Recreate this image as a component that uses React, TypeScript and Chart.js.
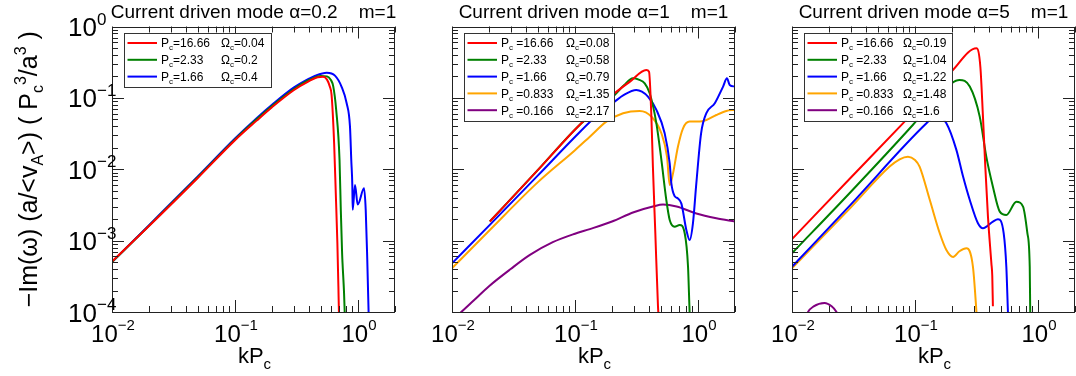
import React, { useEffect, useRef } from 'react';
import { Chart, registerables } from 'chart.js';

Chart.register(...registerables);

type Pt = [number, number];

// ---------- axes ----------
const X_MIN = 0.01;
const X_MAX = 2;
const Y_MIN = 1e-4;
const Y_MAX = 1;
const xTickExponents = [-2, -1, 0];
const yTickExponents = [0, -1, -2, -3, -4];

const seriesColors = ['#ff0000', '#008000', '#0000ff', '#ffa500', '#800080'];
const alphaValues = ['0.2', '1', '5'];
const modeNumber = '1';

// ---------- alpha = 0.2 ----------
const a02Pc = ['16.66', '2.33', '1.66'];
const a02Omega = ['0.04', '0.2', '0.4'];
const a02Pc1666: Pt[] = [
  [0.01, 5.1e-4], [0.02, 1.6e-3], [0.05, 7.6e-3], [0.1, 0.0255], [0.15, 0.048], [0.2, 0.074],
  [0.3, 0.128], [0.4, 0.172], [0.47, 0.195], [0.52, 0.197], [0.56, 0.18], [0.59, 0.144],
  [0.61, 0.11], [0.64, 0.023], [0.66, 4.6e-3], [0.68, 9.2e-4], [0.693, 2.3e-4], [0.7, 1e-4], [0.705, 8e-5],
];
const a02Pc233: Pt[] = [
  [0.01, 5.0e-4], [0.02, 1.62e-3], [0.05, 7.8e-3], [0.1, 0.0262], [0.15, 0.05], [0.2, 0.077],
  [0.3, 0.132], [0.4, 0.178], [0.5, 0.203], [0.56, 0.2], [0.6, 0.18], [0.63, 0.144],
  [0.665, 0.068], [0.708, 0.0135], [0.725, 2.7e-3], [0.743, 6.6e-4], [0.75, 4.6e-4],
  [0.77, 1.9e-4], [0.78, 1e-4], [0.785, 8e-5],
];
const a02Pc166: Pt[] = [
  [0.01, 5.0e-4], [0.02, 1.65e-3], [0.05, 8e-3], [0.1, 0.027], [0.15, 0.052], [0.2, 0.08],
  [0.3, 0.139], [0.4, 0.186], [0.45, 0.205], [0.557, 0.225], [0.65, 0.205], [0.736, 0.143],
  [0.809, 0.084], [0.861, 0.0395], [0.882, 0.0135], [0.9, 5.7e-3], [0.906, 2.7e-3],
  [0.946, 6e-3], [0.995, 3.2e-3], [1.12, 5.4e-3], [1.156, 2.7e-3], [1.19, 5.4e-4], [1.22, 1e-4], [1.23, 7e-5],
];

// ---------- alpha = 1 ----------
const a1Pc = ['16.66', '2.33', '1.66', '0.833', '0.166'];
const a1Omega = ['0.08', '0.58', '0.79', '1.35', '2.17'];
const a1Pc1666: Pt[] = [
  [0.0203, 1.85e-3], [0.05, 9.8e-3], [0.109, 0.0418], [0.15, 0.068], [0.21, 0.116], [0.28, 0.169],
  [0.38, 0.246], [0.4, 0.232], [0.418, 0.0546], [0.43, 0.0109], [0.45, 1.27e-3], [0.473, 1.2e-4], [0.48, 8e-5],
];
const a1Pc233: Pt[] = [
  [0.0203, 1.85e-3], [0.05, 9.8e-3], [0.109, 0.0418], [0.15, 0.066], [0.21, 0.11], [0.25, 0.15],
  [0.296, 0.188], [0.33, 0.18], [0.369, 0.16], [0.405, 0.116], [0.459, 0.044], [0.504, 0.0135],
  [0.553, 3.7e-3], [0.589, 1.95e-3], [0.646, 1.57e-3], [0.71, 1.66e-3], [0.78, 1.27e-3],
  [0.83, 4.3e-4], [0.855, 1e-4], [0.86, 8e-5],
];
const a1Pc166: Pt[] = [
  [0.01, 4.8e-4], [0.0203, 1.66e-3], [0.05, 8.2e-3], [0.109, 0.033], [0.15, 0.056], [0.21, 0.0885],
  [0.25, 0.11], [0.315, 0.129], [0.35, 0.122], [0.392, 0.104], [0.459, 0.068], [0.536, 0.0319],
  [0.589, 0.0121], [0.607, 6.4e-3], [0.646, 4.2e-3], [0.687, 3.9e-3], [0.733, 3.3e-3], [0.805, 1.4e-3],
  [0.855, 1.02e-3], [0.91, 1.75e-3], [0.97, 6.4e-3], [1.06, 0.0319], [1.17, 0.061], [1.37, 0.084],
  [1.6, 0.144], [1.72, 0.188], [1.81, 0.152], [2.0, 0.144],
];
const a1Pc0833: Pt[] = [
  [0.01, 4.1e-4], [0.0203, 1.41e-3], [0.05, 6.6e-3], [0.1, 0.0185], [0.132, 0.0286], [0.18, 0.0465],
  [0.246, 0.061], [0.336, 0.0656], [0.418, 0.0546], [0.504, 0.0319], [0.56, 0.015], [0.589, 6e-3],
  [0.627, 8.8e-3], [0.687, 0.0207], [0.756, 0.0375], [0.855, 0.0465], [1.03, 0.0465], [1.17, 0.049],
  [1.41, 0.0576], [1.7, 0.0656], [2.0, 0.068],
];
const a1Pc0166: Pt[] = [
  [0.01, 7.5e-5], [0.0119, 1e-4], [0.015, 1.45e-4], [0.02, 2.3e-4], [0.03, 4e-4], [0.043, 6.3e-4],
  [0.066, 9.5e-4], [0.1, 1.25e-3], [0.132, 1.45e-3], [0.2, 1.85e-3], [0.3, 2.5e-3], [0.43, 3.0e-3],
  [0.52, 3.2e-3], [0.67, 3.0e-3], [0.97, 2.4e-3], [1.41, 2.06e-3], [2.0, 1.85e-3],
];

// ---------- alpha = 5 ----------
const a5Pc = ['16.66', '2.33', '1.66', '0.833', '0.166'];
const a5Omega = ['0.19', '1.04', '1.22', '1.48', '1.6'];
const a5Pc1666: Pt[] = [
  [0.01, 1.05e-3], [0.03, 7.6e-3], [0.0798, 0.044], [0.198, 0.233], [0.316, 0.494], [0.34, 0.273],
  [0.357, 0.0546], [0.373, 0.0109], [0.392, 2.17e-3], [0.418, 4.8e-4], [0.425, 3.2e-4], [0.43, 1.2e-4],
];
const a5Pc233: Pt[] = [
  [0.01, 6.65e-4], [0.03, 4.8e-3], [0.0964, 0.042], [0.15, 0.1], [0.198, 0.16], [0.23, 0.178],
  [0.279, 0.144], [0.336, 0.0546], [0.38, 0.015], [0.43, 5.7e-3], [0.489, 2.55e-3], [0.553, 2.29e-3],
  [0.667, 3.5e-3], [0.756, 3e-3], [0.82, 1.27e-3], [0.857, 4.3e-4], [0.865, 1e-4], [0.87, 7e-5],
];
const a5Pc166: Pt[] = [
  [0.01, 4.3e-4], [0.03, 3.2e-3], [0.124, 0.044], [0.15, 0.058], [0.18, 0.044], [0.217, 0.0187],
  [0.246, 7.9e-3], [0.279, 3.7e-3], [0.325, 1.75e-3], [0.357, 1.49e-3], [0.43, 1.85e-3], [0.473, 2e-3],
  [0.526, 1.27e-3], [0.553, 4.3e-4], [0.57, 1e-4], [0.575, 7e-5],
];
const a5Pc0833: Pt[] = [
  [0.01, 4.1e-4], [0.03, 2.9e-3], [0.0622, 0.0109], [0.075, 0.0138], [0.0877, 0.015], [0.1, 0.0135],
  [0.109, 0.0109], [0.132, 3.7e-3], [0.159, 1.27e-3], [0.18, 7.4e-4], [0.204, 5.9e-4], [0.23, 7.1e-4],
  [0.262, 7.8e-4], [0.296, 4.3e-4], [0.316, 1e-4], [0.32, 7e-5],
];
const a5Pc0166: Pt[] = [
  [0.0125, 7e-5], [0.0135, 1e-4], [0.015, 1.2e-4], [0.0184, 1.34e-4], [0.021, 1.2e-4], [0.023, 1e-4], [0.025, 7e-5],
];

// ---------- drawing helpers ----------
const FONT = '"Liberation Sans", Arial, Helvetica, sans-serif';

type Run = { t: string; size: number; dy: number };

function runsWidth(ctx: CanvasRenderingContext2D, runs: Run[]) {
  let w = 0;
  for (const r of runs) {
    ctx.font = `${r.size}px ${FONT}`;
    w += ctx.measureText(r.t).width;
  }
  return w;
}

function drawRuns(ctx: CanvasRenderingContext2D, runs: Run[], x: number, y: number, align: 'left' | 'center' | 'right') {
  const total = runsWidth(ctx, runs);
  let cx = align === 'left' ? x : align === 'center' ? x - total / 2 : x - total;
  ctx.textAlign = 'left';
  ctx.textBaseline = 'alphabetic';
  for (const r of runs) {
    ctx.font = `${r.size}px ${FONT}`;
    ctx.fillText(r.t, cx, y + r.dy);
    cx += ctx.measureText(r.t).width;
  }
  return total;
}

interface PanelSpec {
  alpha: string;
  series: Pt[][];
  pcLabels: string[];
  omegaLabels: string[];
  pcSpace: boolean;
  showYLabels: boolean;
  legendWidth: number;
  omegaOffset: number;
  canvasLeft: number;
  canvasWidth: number;
  padLeft: number;
  padRight: number;
}

const decorPlugin = {
  id: 'panelDecor',
  afterDraw(chart: any, _args: any, opts: any) {
    const spec: PanelSpec = opts.spec;
    const ctx: CanvasRenderingContext2D = chart.ctx;
    const { left, right, top, bottom } = chart.chartArea;
    const xs = chart.scales.x;
    const ys = chart.scales.y;
    ctx.save();
    ctx.strokeStyle = '#222';
    ctx.fillStyle = '#000';
    ctx.lineWidth = 1;

    // ticks (inward, all four sides)
    ctx.beginPath();
    for (let e = -2; e <= 0; e++) {
      for (let m = 1; m <= 9; m++) {
        const v = m * Math.pow(10, e);
        if (v < X_MIN * 0.999 || v > X_MAX * 1.001) continue;
        const px = Math.round(xs.getPixelForValue(v)) + 0.5;
        const len = m === 1 ? 12 : 6;
        ctx.moveTo(px, bottom); ctx.lineTo(px, bottom - len);
        ctx.moveTo(px, top); ctx.lineTo(px, top + len);
      }
    }
    for (let e = -4; e <= 0; e++) {
      for (let m = 1; m <= 9; m++) {
        const v = m * Math.pow(10, e);
        if (v < Y_MIN * 0.999 || v > Y_MAX * 1.001) continue;
        const py = Math.round(ys.getPixelForValue(v)) + 0.5;
        const len = m === 1 ? 12 : 6;
        ctx.moveTo(left, py); ctx.lineTo(left + len, py);
        ctx.moveTo(right, py); ctx.lineTo(right - len, py);
      }
    }
    ctx.stroke();
    // frame
    ctx.strokeRect(Math.round(left) + 0.5, Math.round(top) + 0.5, Math.round(right - left) - 1, Math.round(bottom - top) - 1);

    // x tick labels
    for (const e of xTickExponents) {
      const px = xs.getPixelForValue(Math.pow(10, e));
      const sup = e === 0 ? '0' : '\u2212' + String(-e);
      drawRuns(ctx, [{ t: '10', size: 24, dy: 0 }, { t: sup, size: 15, dy: -12 }], px + 1, 342, 'center');
    }
    // y tick labels
    if (spec.showYLabels) {
      for (const e of yTickExponents) {
        const py = ys.getPixelForValue(Math.pow(10, e));
        const sup = e === 0 ? '0' : '\u2212' + String(-e);
        ctx.font = `26px ${FONT}`;
        ctx.textAlign = 'right';
        ctx.textBaseline = 'alphabetic';
        ctx.fillText('10', 97, py + 9.5);
        ctx.font = `17px ${FONT}`;
        ctx.textAlign = 'left';
        ctx.fillText(sup, 97, py - 2);
      }
      // y axis title (rotated)
      ctx.save();
      ctx.translate(37, (top + bottom) / 2);
      ctx.rotate(-Math.PI / 2);
      const F = 25;
      const S = 16;
      drawRuns(ctx, [
        { t: '\u2212Im(\u03c9) (a/<v', size: F, dy: 0 },
        { t: 'A', size: S, dy: 6 },
        { t: '>) ( P', size: F, dy: 0 },
        { t: 'c', size: S, dy: 6 },
        { t: '3', size: S, dy: -11 },
        { t: '/a', size: F, dy: 0 },
        { t: '3', size: S, dy: -11 },
        { t: ' )', size: F, dy: 0 },
      ], 0, 0, 'center');
      ctx.restore();
    }
    // x axis title
    drawRuns(ctx, [{ t: 'kP', size: 22, dy: 0 }, { t: 'c', size: 15, dy: 6 }], (left + right) / 2 + 1, 363, 'center');

    // panel title
    drawRuns(ctx, [{ t: `Current driven mode \u03b1=${spec.alpha}    m=${modeNumber}`, size: 19, dy: 0 }], (left + right) / 2, 18, 'center');

    // legend
    const n = spec.pcLabels.length;
    const bx = left + 12;
    const by = 33;
    const rowH = 16.8;
    const bh = 10 + rowH * (n - 1) + 10.7;
    ctx.fillStyle = '#fff';
    ctx.fillRect(bx, by, spec.legendWidth, bh);
    ctx.strokeStyle = '#333';
    ctx.lineWidth = 1;
    ctx.strokeRect(Math.round(bx) + 0.5, by + 0.5, spec.legendWidth, Math.round(bh));
    for (let i = 0; i < n; i++) {
      const ry = by + 10 + i * rowH;
      ctx.strokeStyle = seriesColors[i];
      ctx.lineWidth = 2;
      ctx.beginPath();
      ctx.moveTo(bx + 3.5, ry);
      ctx.lineTo(bx + 33, ry);
      ctx.stroke();
      ctx.fillStyle = '#000';
      drawRuns(ctx, [
        { t: 'P', size: 12, dy: 0 },
        { t: 'c', size: 8, dy: 3 },
        { t: (spec.pcSpace ? ' =' : '=') + spec.pcLabels[i], size: 12, dy: 0 },
      ], bx + 37, ry + 4.3, 'left');
      drawRuns(ctx, [
        { t: '\u03a9', size: 12, dy: 0 },
        { t: 'c', size: 8, dy: 3 },
        { t: '=' + spec.omegaLabels[i], size: 12, dy: 0 },
      ], bx + spec.omegaOffset, ry + 4.3, 'left');
    }
    ctx.restore();
  },
};

const panels: PanelSpec[] = [
  {
    alpha: alphaValues[0], series: [a02Pc1666, a02Pc233, a02Pc166], pcLabels: a02Pc, omegaLabels: a02Omega,
    pcSpace: false, showYLabels: true, legendWidth: 147, omegaOffset: 97,
    canvasLeft: 0, canvasWidth: 400, padLeft: 112, padRight: 5,
  },
  {
    alpha: alphaValues[1], series: [a1Pc1666, a1Pc233, a1Pc166, a1Pc0833, a1Pc0166], pcLabels: a1Pc, omegaLabels: a1Omega,
    pcSpace: true, showYLabels: false, legendWidth: 150, omegaOffset: 102,
    canvasLeft: 400, canvasWidth: 340, padLeft: 52, padRight: 5,
  },
  {
    alpha: alphaValues[2], series: [a5Pc1666, a5Pc233, a5Pc166, a5Pc0833, a5Pc0166], pcLabels: a5Pc, omegaLabels: a5Omega,
    pcSpace: true, showYLabels: false, legendWidth: 148, omegaOffset: 99,
    canvasLeft: 740, canvasWidth: 336, padLeft: 52, padRight: 1,
  },
];

function Panel({ spec }: { spec: PanelSpec }) {
  const ref = useRef<HTMLCanvasElement | null>(null);
  useEffect(() => {
    if (!ref.current) return;
    const chart = new Chart(ref.current, {
      type: 'line',
      data: {
        datasets: spec.series.map((pts, i) => ({
          label: `Pc=${spec.pcLabels[i]}`,
          data: pts.map(([x, y]) => ({ x, y })),
          borderColor: seriesColors[i],
          backgroundColor: seriesColors[i],
          borderWidth: 2,
          pointRadius: 0,
          fill: false,
          cubicInterpolationMode: 'monotone' as const,
        })),
      },
      options: {
        responsive: false,
        animation: false,
        devicePixelRatio: 1,
        events: [],
        layout: { padding: { left: spec.padLeft, right: spec.padRight, top: 26.5, bottom: 64 } },
        scales: {
          x: { type: 'logarithmic', min: X_MIN, max: X_MAX, display: false },
          y: { type: 'logarithmic', min: Y_MIN, max: Y_MAX, display: false },
        },
        plugins: {
          legend: { display: false },
          tooltip: { enabled: false },
          title: { display: false },
          panelDecor: { spec },
        } as any,
      },
      plugins: [decorPlugin as any],
    });
    return () => chart.destroy();
  }, [spec]);
  return (
    <canvas
      ref={ref}
      width={spec.canvasWidth}
      height={376}
      style={{ position: 'absolute', left: spec.canvasLeft, top: 0, width: spec.canvasWidth, height: 376 }}
    />
  );
}

export default function App() {
  return (
    <div style={{ position: 'fixed', left: 0, top: 0, width: 1076, height: 376, background: '#fff', overflow: 'hidden' }}>
      {panels.map((p, i) => (
        <Panel key={i} spec={p} />
      ))}
    </div>
  );
}
